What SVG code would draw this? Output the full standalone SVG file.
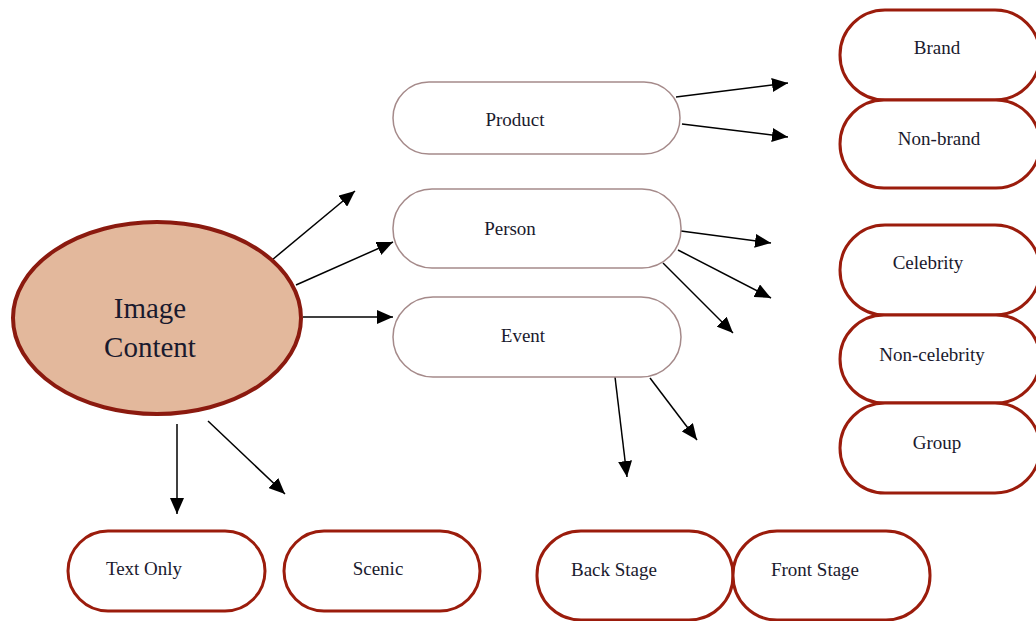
<svg xmlns="http://www.w3.org/2000/svg" width="1036" height="621" viewBox="0 0 1036 621">
<style>
text{font-family:"Liberation Serif","DejaVu Serif",serif;fill:#1a1a2e;text-anchor:middle}
.t{font-size:19px}
.big{font-size:29px}
.mid{fill:#fff;stroke:#a58a8a;stroke-width:1.5}
.out{fill:#fff;stroke:#9b1c0c;stroke-width:3}
.c line{stroke:#000;stroke-width:1.5;marker-end:url(#ah)}
</style>
<defs>
<marker id="ah" markerUnits="userSpaceOnUse" markerWidth="18" markerHeight="14" refX="16" refY="7" orient="auto">
<path d="M0,0 L16,7 L0,14 Z" fill="#000"/>
</marker>
</defs>
<rect width="1036" height="621" fill="#fff"/>
<g class="c" id="connectors">
<line x1="272" y1="260" x2="355" y2="191"/>
<line x1="296" y1="285" x2="393" y2="242"/>
<line x1="303" y1="317" x2="393" y2="317"/>
<line x1="177" y1="424" x2="177" y2="514"/>
<line x1="208" y1="421" x2="285" y2="494"/>
<line x1="676" y1="97" x2="788" y2="83"/>
<line x1="682" y1="124" x2="788" y2="137"/>
<line x1="681" y1="231" x2="771" y2="243"/>
<line x1="678" y1="250" x2="771" y2="298"/>
<line x1="663" y1="263" x2="733" y2="333"/>
<line x1="615" y1="377" x2="627" y2="477"/>
<line x1="650" y1="378" x2="697" y2="440"/>
</g>
<g id="image-content">
<ellipse cx="157" cy="318" rx="144" ry="96" fill="#e3b89c" stroke="#8b1a0f" stroke-width="4"/>
<text class="big" x="150" y="318">Image</text>
<text class="big" x="150" y="357">Content</text>
</g>
<g id="product"><rect class="mid" x="393" y="82" width="287" height="72" rx="36"/><text class="t" x="515" y="126">Product</text></g>
<g id="person"><rect class="mid" x="393" y="189" width="288" height="79" rx="39"/><text class="t" x="510" y="235">Person</text></g>
<g id="event"><rect class="mid" x="393" y="297" width="288" height="80" rx="40"/><text class="t" x="523" y="342">Event</text></g>
<g id="brand"><rect class="out" x="840" y="10" width="200" height="90" rx="45"/><text class="t" x="937" y="54">Brand</text></g>
<g id="non-brand"><rect class="out" x="840" y="100" width="200" height="88" rx="44"/><text class="t" x="939" y="145">Non-brand</text></g>
<g id="celebrity"><rect class="out" x="840" y="225" width="200" height="90" rx="45"/><text class="t" x="928" y="269">Celebrity</text></g>
<g id="non-celebrity"><rect class="out" x="840" y="315" width="200" height="88" rx="44"/><text class="t" x="932" y="361">Non-celebrity</text></g>
<g id="group"><rect class="out" x="840" y="403" width="200" height="90" rx="45"/><text class="t" x="937" y="449">Group</text></g>
<g id="text-only"><rect class="out" x="68" y="531" width="197" height="80" rx="40"/><text class="t" x="144" y="575">Text Only</text></g>
<g id="scenic"><rect class="out" x="284" y="531" width="196" height="80" rx="40"/><text class="t" x="378" y="575">Scenic</text></g>
<g id="back-stage"><rect class="out" x="537" y="531" width="196" height="89" rx="44"/><text class="t" x="614" y="576">Back Stage</text></g>
<g id="front-stage"><rect class="out" x="733" y="531" width="197" height="89" rx="44"/><text class="t" x="815" y="576">Front Stage</text></g>
</svg>
